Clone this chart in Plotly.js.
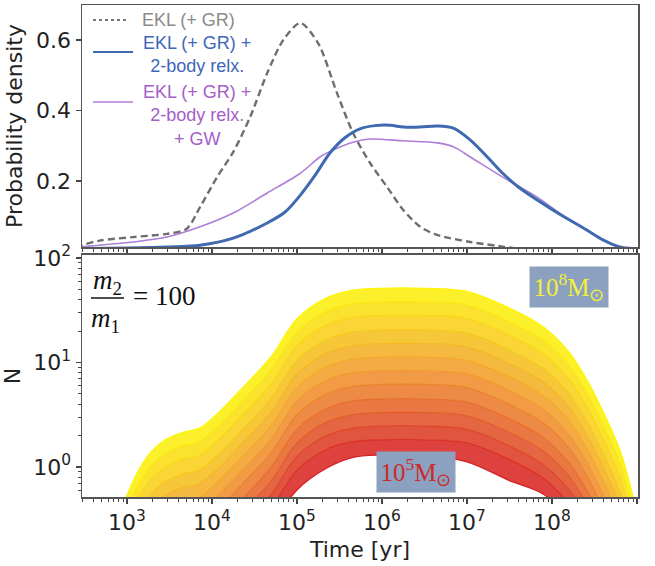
<!DOCTYPE html>
<html><head><meta charset="utf-8">
<script src="https://cdn.plot.ly/plotly-3.0.1.min.js"></script>
<style>html,body{margin:0;padding:0;background:#fff}#chart{width:655px;height:566px}</style>
</head><body><div id="chart"></div>
<script>
// ===== Top panel: probability density vs log10(Time / yr) =====
const eklGR_logT = [2.40, 2.47, 2.68, 3.07, 3.47, 3.70, 3.86, 4.06, 4.25, 4.45, 4.65, 4.84, 5.04, 5.25, 5.47, 5.66, 5.86, 6.06, 6.25, 6.45, 6.65, 7.04, 7.42, 7.60];
const eklGR_pdf  = [0.012, 0.018, 0.031, 0.041, 0.050, 0.064, 0.126, 0.211, 0.282, 0.382, 0.506, 0.600, 0.648, 0.590, 0.450, 0.336, 0.251, 0.183, 0.118, 0.070, 0.047, 0.027, 0.014, 0.008];

const eklRelx_logT = [2.40, 3.00, 3.47, 3.86, 4.25, 4.65, 4.86, 5.04, 5.21, 5.39, 5.56, 5.74, 5.92, 6.10, 6.25, 6.45, 6.65, 6.84, 7.04, 7.24, 7.42, 7.62, 8.01, 8.41, 8.60, 8.80, 9.00];
const eklRelx_pdf  = [0.008, 0.010, 0.013, 0.018, 0.038, 0.081, 0.112, 0.160, 0.215, 0.280, 0.322, 0.348, 0.357, 0.358, 0.353, 0.353, 0.356, 0.350, 0.316, 0.268, 0.222, 0.180, 0.118, 0.061, 0.033, 0.013, 0.008];

const eklRelxGW_logT = [2.40, 2.47, 3.07, 3.47, 3.86, 4.25, 4.65, 5.04, 5.27, 5.39, 5.66, 5.86, 6.25, 6.65, 6.84, 7.04, 7.42, 7.82, 8.21, 8.60, 8.80, 9.00];
const eklRelxGW_pdf  = [0.010, 0.013, 0.027, 0.041, 0.070, 0.109, 0.166, 0.222, 0.268, 0.284, 0.310, 0.319, 0.314, 0.308, 0.297, 0.268, 0.211, 0.155, 0.089, 0.033, 0.013, 0.008];

const legendNames = ["EKL (+ GR)", "EKL (+ GR) +<br>2-body relx.", "EKL (+ GR) +<br>2-body relx.<br>+ GW"];

// ===== Bottom panel: N vs log10(Time / yr), one curve per SMBH mass =====
const logTimeGrid = [2.90, 3.00, 3.25, 3.45, 3.65, 3.85, 4.05, 4.35, 4.70, 5.00, 5.35, 5.65, 6.00, 6.50, 7.00, 7.50, 7.90, 8.20, 8.40, 8.60, 8.80, 8.95, 9.05];
const massLog10 = [8.00, 7.75, 7.50, 7.25, 7.00, 6.75, 6.50, 6.25, 6.00, 5.75, 5.50, 5.25, 5.00];
// log10(N) of each curve on logTimeGrid
const log10N_M800 = [-0.55, -0.27, 0.11, 0.26, 0.33, 0.37, 0.50, 0.75, 1.06, 1.42, 1.62, 1.69, 1.71, 1.71, 1.68, 1.52, 1.34, 1.10, 0.85, 0.53, 0.16, -0.27, -0.60];
const log10N_M775 = [-0.68, -0.40, -0.02, 0.13, 0.20, 0.24, 0.37, 0.62, 0.93, 1.29, 1.49, 1.56, 1.58, 1.58, 1.55, 1.39, 1.21, 0.97, 0.72, 0.40, 0.03, -0.40, -0.73];
const log10N_M750 = [-0.81, -0.53, -0.15, 0.00, 0.07, 0.11, 0.24, 0.49, 0.80, 1.16, 1.36, 1.43, 1.45, 1.45, 1.42, 1.26, 1.08, 0.84, 0.59, 0.27, -0.10, -0.53, -0.86];
const log10N_M725 = [-0.95, -0.67, -0.29, -0.14, -0.07, -0.03, 0.10, 0.35, 0.66, 1.02, 1.22, 1.29, 1.31, 1.31, 1.28, 1.12, 0.94, 0.70, 0.45, 0.13, -0.24, -0.67, -1.00];
const log10N_M700 = [-1.08, -0.80, -0.42, -0.27, -0.20, -0.16, -0.03, 0.22, 0.53, 0.89, 1.09, 1.16, 1.18, 1.18, 1.15, 0.99, 0.81, 0.57, 0.32, 0.00, -0.37, -0.80, -1.13];
const log10N_M675 = [-1.21, -0.93, -0.55, -0.40, -0.33, -0.29, -0.16, 0.09, 0.40, 0.76, 0.96, 1.03, 1.05, 1.05, 1.02, 0.86, 0.68, 0.44, 0.19, -0.13, -0.50, -0.93, -1.26];
const log10N_M650 = [-1.34, -1.06, -0.68, -0.53, -0.46, -0.42, -0.29, -0.04, 0.27, 0.63, 0.83, 0.90, 0.92, 0.92, 0.89, 0.73, 0.55, 0.31, 0.06, -0.26, -0.63, -1.06, -1.39];
const log10N_M625 = [-1.47, -1.19, -0.81, -0.66, -0.59, -0.55, -0.42, -0.17, 0.14, 0.50, 0.70, 0.77, 0.79, 0.79, 0.76, 0.60, 0.42, 0.18, -0.07, -0.39, -0.76, -1.19, -1.52];
const log10N_M600 = [-1.61, -1.33, -0.95, -0.80, -0.73, -0.69, -0.56, -0.31, 0.00, 0.36, 0.56, 0.63, 0.65, 0.65, 0.62, 0.46, 0.28, 0.04, -0.21, -0.53, -0.90, -1.33, -1.66];
const log10N_M575 = [-1.74, -1.46, -1.08, -0.93, -0.86, -0.82, -0.69, -0.44, -0.13, 0.23, 0.43, 0.50, 0.52, 0.52, 0.49, 0.33, 0.15, -0.09, -0.34, -0.66, -1.03, -1.46, -1.79];
const log10N_M550 = [-1.87, -1.59, -1.21, -1.06, -0.99, -0.95, -0.82, -0.57, -0.26, 0.10, 0.30, 0.37, 0.39, 0.39, 0.36, 0.20, 0.02, -0.22, -0.47, -0.79, -1.16, -1.59, -1.92];
const log10N_M525 = [-2.00, -1.72, -1.34, -1.19, -1.12, -1.08, -0.95, -0.70, -0.39, -0.03, 0.17, 0.24, 0.26, 0.26, 0.23, 0.07, -0.11, -0.35, -0.60, -0.92, -1.29, -1.72, -2.05];
const log10N_M500 = [-2.20, -1.90, -1.50, -1.35, -1.27, -1.22, -1.10, -0.85, -0.55, -0.22, -0.01, 0.09, 0.115, 0.11, 0.05, -0.13, -0.26, -0.50, -0.75, -1.05, -1.40, -1.85, -2.20];
const curvesLog10N = [log10N_M800, log10N_M775, log10N_M750, log10N_M725, log10N_M700, log10N_M675, log10N_M650, log10N_M625, log10N_M600, log10N_M575, log10N_M550, log10N_M525, log10N_M500];

const majorLogT = [3, 4, 5, 6, 7, 8, 9];
const majorLogN = [0, 1, 2];

// ===== styling helpers =====
const P10 = v => Math.pow(10, v);
const cY = [252, 246, 10], cO = [242, 152, 46], cR = [214, 30, 36];
function colAt(f, white) {
  let a, b, t;
  if (f < 0.5) { a = cY; b = cO; t = f / 0.5; } else { a = cO; b = cR; t = (f - 0.5) / 0.5; }
  const c = a.map((v, i) => v + (b[i] - v) * t).map(v => Math.round(v + (255 - v) * (white || 0)));
  return 'rgb(' + c.join(',') + ')';
}

const traces = [];
const nC = curvesLog10N.length;
const tGrid = logTimeGrid.map(P10);
for (let k = nC - 1; k >= 0; k--) {
  traces.push({
    x: tGrid, y: curvesLog10N[k].map(P10), xaxis: 'x2', yaxis: 'y2',
    type: 'scatter', mode: 'lines', name: '10^' + massLog10[k] + ' Msun',
    line: {color: colAt(k / (nC - 1)), width: 1.3, shape: 'spline', smoothing: 1},
    fill: k === nC - 1 ? 'none' : 'tonexty',
    fillcolor: colAt((k + 0.5) / (nC - 1), 0.12),
    showlegend: false, hoverinfo: 'skip'
  });
}
traces.push({x: eklGR_logT.map(P10), y: eklGR_pdf, xaxis: 'x', yaxis: 'y', type: 'scatter', mode: 'lines', name: legendNames[0],
  line: {color: '#6e6e6e', width: 2.4, dash: '7px,4px', shape: 'spline', smoothing: 0.8}, showlegend: false});
traces.push({x: eklRelxGW_logT.map(P10), y: eklRelxGW_pdf, xaxis: 'x', yaxis: 'y', type: 'scatter', mode: 'lines', name: legendNames[2],
  line: {color: '#ad7fd6', width: 1.6, shape: 'spline', smoothing: 0.8}, showlegend: false});
traces.push({x: eklRelx_logT.map(P10), y: eklRelx_pdf, xaxis: 'x', yaxis: 'y', type: 'scatter', mode: 'lines', name: legendNames[1],
  line: {color: '#3f69b1', width: 3, shape: 'spline', smoothing: 0.9}, showlegend: false});

const minorT = [];
for (let e = 2; e <= 8; e++) for (let d = 2; d <= 9; d++) minorT.push(d * P10(e));
const minorN = [];
for (let e = -1; e <= 1; e++) for (let d = 2; d <= 9; d++) minorN.push(d * P10(e));
const supTxt = e => '10<sup>' + e + '</sup>';

const tickFont = {family: 'DejaVu Sans', size: 22, color: '#222'};
const titleFont = {family: 'DejaVu Sans', size: 22, color: '#222'};
const axCommon = {showline: true, linecolor: '#555', linewidth: 1.5, mirror: true, showgrid: false, zeroline: false,
  ticks: 'outside', ticklen: 5, tickwidth: 1.3, tickcolor: '#444', tickfont: tickFont};
const xRange = [2.471, 9.012];
const ann = (x, y, text, font, extra) => Object.assign({xref: 'paper', yref: 'paper', x: x, y: y, text: text,
  showarrow: false, xanchor: 'center', yanchor: 'middle', align: 'center', font: font}, extra || {});
const legFont = c => ({family: 'Liberation Sans', size: 18, color: c});
const serif = {family: 'Liberation Serif', size: 27, color: '#111'};

const layout = {
  width: 655, height: 566, margin: {l: 82, r: 17, t: 5, b: 69},
  paper_bgcolor: '#fff', plot_bgcolor: '#fff', showlegend: false,
  xaxis: Object.assign({}, axCommon, {domain: [0, 1], anchor: 'y', type: 'log', range: xRange, showticklabels: false,
    tickvals: majorLogT.map(P10), minor: {tickvals: minorT, ticklen: 3, tickwidth: 1, tickcolor: '#444'}}),
  yaxis: Object.assign({}, axCommon, {domain: [0.5081, 1], anchor: 'x', range: [0.0128, 0.699],
    tickvals: [0.2, 0.4, 0.6], ticktext: ['0.2', '0.4', '0.6'],
    title: {text: 'Probability density', font: titleFont, standoff: 7}}),
  xaxis2: Object.assign({}, axCommon, {domain: [0, 1], anchor: 'y2', type: 'log', range: xRange,
    tickvals: majorLogT.map(P10), ticktext: majorLogT.map(supTxt),
    minor: {tickvals: minorT, ticklen: 3, tickwidth: 1, tickcolor: '#444'},
    title: {text: 'Time [yr]', font: titleFont, standoff: 7}}),
  yaxis2: Object.assign({}, axCommon, {domain: [0, 0.4919], anchor: 'x2', type: 'log', range: [-0.287, 2.029],
    tickvals: majorLogN.map(P10), ticktext: majorLogN.map(supTxt),
    minor: {tickvals: minorN, ticklen: 3, tickwidth: 1, tickcolor: '#444'},
    title: {text: 'N', font: titleFont, standoff: 9}}),
  shapes: [
    {type: 'line', xref: 'paper', yref: 'paper', x0: 0.0198, x1: 0.0827, y0: 0.9695, y1: 0.9695, line: {color: '#777', width: 2, dash: '3px,3px'}},
    {type: 'line', xref: 'paper', yref: 'paper', x0: 0.0198, x1: 0.0917, y0: 0.9045, y1: 0.9045, line: {color: '#3f69b1', width: 2}},
    {type: 'line', xref: 'paper', yref: 'paper', x0: 0.0198, x1: 0.0917, y0: 0.8028, y1: 0.8028, line: {color: '#b07fd8', width: 1.5}},
    {type: 'line', xref: 'paper', yref: 'paper', x0: 0.0162, x1: 0.0755, y0: 0.4045, y1: 0.4045, line: {color: '#111', width: 1.4}}
  ],
  annotations: [
    ann(0.192, 0.9695, legendNames[0], legFont('#8a8a8a')),
    ann(0.207, 0.8984, legendNames[1], legFont('#3f66b8')),
    ann(0.207, 0.7764, legendNames[2], legFont('#a45ec8')),
    ann(0.046, 0.437, '<i>m</i><sub>2</sub>', serif),
    ann(0.042, 0.360, '<i>m</i><sub>1</sub>', serif),
    ann(0.1475, 0.4085, '= 100', serif),
    {xref: 'x2', yref: 'y2', x: 8.2, y: 1.72, text: '10<sup>8</sup>M<sub>⊙</sub>', showarrow: false,
      xanchor: 'center', yanchor: 'middle', bgcolor: '#8ca1bf', width: 76, height: 38, borderpad: 1,
      font: {family: 'Liberation Serif', size: 25, color: '#f2f03a'}},
    {xref: 'x2', yref: 'y2', x: 6.40, y: -0.05, text: '10<sup>5</sup>M<sub>⊙</sub>', showarrow: false,
      xanchor: 'center', yanchor: 'middle', bgcolor: '#8ca1bf', width: 76, height: 38, borderpad: 1,
      font: {family: 'Liberation Serif', size: 25, color: '#cc2a2a'}}
  ]
};

Plotly.newPlot('chart', traces, layout, {staticPlot: true, displayModeBar: false});
</script>
</body></html>
